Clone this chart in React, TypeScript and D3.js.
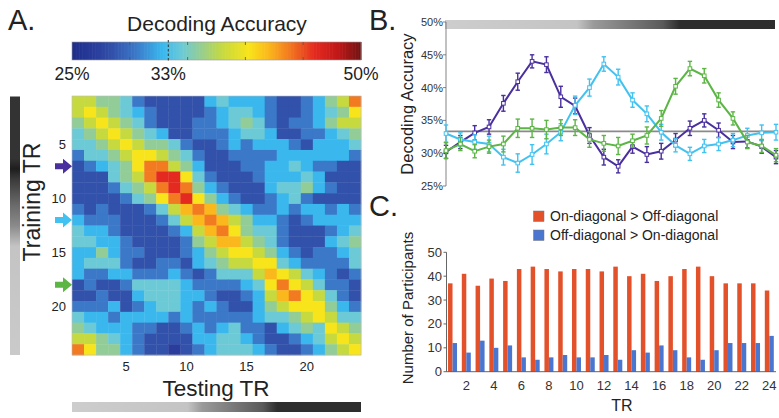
import React from "react";
import * as d3 from "d3";

const FONT = "'Liberation Sans', Arial, Helvetica, sans-serif";

// ---------- Data ----------
const trs = [1, 2, 3, 4, 5, 6, 7, 8, 9, 10, 11, 12, 13, 14, 15, 16, 17, 18, 19, 20, 21, 22, 23, 24];

// Panel A: decoding accuracy (%) matrix, rows = training TR, cols = testing TR
const heatRows: number[][] = [
  [38, 38, 36, 36, 34.5, 30.5, 28.5, 28.5, 28.5, 28.5, 28.5, 32.8, 34.5, 32.8, 32.8, 32.8, 30.5, 28.5, 28.5, 30.5, 32.8, 36, 38, 43.8],
  [38, 40.3, 38, 36, 34.5, 32.8, 30.5, 28.5, 28.5, 28.5, 28.5, 30.5, 32.8, 34.5, 34.5, 32.8, 30.5, 28.5, 28.5, 30.5, 32.8, 34.5, 36, 40.3],
  [36, 38, 40.3, 38, 36, 34.5, 30.5, 28.5, 28.5, 28.5, 30.5, 30.5, 32.8, 34.5, 36, 34.5, 30.5, 28.5, 30.5, 30.5, 32.8, 36, 38, 38],
  [34.5, 36, 38, 40.3, 38, 36, 34.5, 32.8, 28.5, 28.5, 30.5, 30.5, 30.5, 32.8, 34.5, 34.5, 32.8, 28.5, 28.5, 30.5, 30.5, 32.8, 34.5, 36],
  [34.5, 34.5, 36, 38, 40.3, 38, 36, 36, 34.5, 30.5, 28.5, 28.5, 30.5, 32.8, 30.5, 32.8, 32.8, 32.8, 30.5, 28.5, 32.8, 32.8, 32.8, 34.5],
  [30.5, 34.5, 34.5, 36, 38, 40.3, 40.3, 38, 36, 34.5, 30.5, 28.5, 28.5, 30.5, 30.5, 30.5, 30.5, 32.8, 32.8, 32.8, 32.8, 32.8, 32.8, 30.5],
  [28.5, 30.5, 32.8, 34.5, 36, 40.3, 43.8, 43.8, 38, 36, 32.8, 28.5, 28.5, 28.5, 30.5, 30.5, 32.8, 32.8, 34.5, 32.8, 30.5, 30.5, 28.5, 28.5],
  [28.5, 28.5, 28.5, 34.5, 36, 38, 43.8, 46, 46, 40.3, 34.5, 30.5, 28.5, 28.5, 28.5, 30.5, 32.8, 32.8, 32.8, 34.5, 32.8, 28.5, 28.5, 28.5],
  [28.5, 28.5, 28.5, 30.5, 34.5, 36, 38, 43.8, 46, 43.8, 36, 32.8, 30.5, 28.5, 28.5, 28.5, 32.8, 34.5, 34.5, 36, 32.8, 30.5, 28.5, 28.5],
  [28.5, 28.5, 28.5, 28.5, 30.5, 34.5, 36, 40.3, 43.8, 46, 40.3, 36, 32.8, 30.5, 28.5, 28.5, 30.5, 32.8, 34.5, 30.5, 28.5, 28.5, 28.5, 28.5],
  [30.5, 28.5, 30.5, 28.5, 28.5, 28.5, 30.5, 34.5, 38, 42, 43.8, 42, 36, 34.5, 32.8, 30.5, 30.5, 32.8, 30.5, 32.8, 32.8, 30.5, 32.8, 30.5],
  [32.8, 30.5, 30.5, 30.5, 28.5, 28.5, 28.5, 30.5, 34.5, 38, 42, 43.8, 42, 38, 36, 32.8, 32.8, 30.5, 28.5, 30.5, 32.8, 32.8, 32.8, 32.8],
  [34.5, 32.8, 32.8, 30.5, 28.5, 28.5, 28.5, 28.5, 30.5, 32.8, 38, 42, 43.8, 40.3, 36, 34.5, 34.5, 30.5, 28.5, 28.5, 28.5, 30.5, 32.8, 34.5],
  [34.5, 34.5, 32.8, 32.8, 30.5, 28.5, 28.5, 28.5, 28.5, 30.5, 36, 38, 42, 42, 38, 36, 34.5, 30.5, 28.5, 28.5, 28.5, 32.8, 34.5, 36],
  [32.8, 32.8, 36, 32.8, 30.5, 30.5, 28.5, 28.5, 28.5, 30.5, 32.8, 36, 38, 40.3, 40.3, 38, 36, 32.8, 30.5, 28.5, 30.5, 30.5, 32.8, 34.5],
  [32.8, 34.5, 34.5, 34.5, 30.5, 28.5, 28.5, 30.5, 30.5, 28.5, 32.8, 34.5, 36, 38, 38, 40.3, 40.3, 34.5, 32.8, 30.5, 30.5, 30.5, 30.5, 34.5],
  [32.8, 30.5, 30.5, 32.8, 32.8, 30.5, 30.5, 30.5, 32.8, 30.5, 28.5, 30.5, 34.5, 34.5, 34.5, 38, 42, 40.3, 38, 34.5, 32.8, 30.5, 28.5, 30.5],
  [28.5, 30.5, 28.5, 28.5, 30.5, 34.5, 34.5, 34.5, 34.5, 32.8, 30.5, 30.5, 30.5, 30.5, 32.8, 34.5, 40.3, 43.8, 40.3, 38, 34.5, 30.5, 30.5, 28.5],
  [28.5, 28.5, 30.5, 28.5, 28.5, 32.8, 34.5, 34.5, 34.5, 32.8, 32.8, 30.5, 28.5, 28.5, 30.5, 32.8, 38, 42, 43.8, 40.3, 38, 34.5, 30.5, 28.5],
  [30.5, 30.5, 30.5, 32.8, 28.5, 30.5, 32.8, 34.5, 34.5, 32.8, 30.5, 32.8, 30.5, 28.5, 28.5, 32.8, 36, 38, 40.3, 40.3, 40.3, 36, 32.8, 30.5],
  [34.5, 32.8, 32.8, 30.5, 32.8, 32.8, 32.8, 32.8, 30.5, 32.8, 30.5, 30.5, 30.5, 30.5, 30.5, 32.8, 34.5, 34.5, 36, 38, 40.3, 38, 34.5, 34.5],
  [36, 34.5, 32.8, 32.8, 32.8, 30.5, 30.5, 28.5, 28.5, 30.5, 32.8, 30.5, 32.8, 34.5, 30.5, 30.5, 28.5, 32.8, 34.5, 36, 34.5, 40.3, 38, 36],
  [38, 38, 36, 34.5, 32.8, 30.5, 28.5, 28.5, 28.5, 28.5, 32.8, 32.8, 34.5, 34.5, 32.8, 30.5, 28.5, 28.5, 30.5, 32.8, 34.5, 38, 40.3, 38],
  [43.8, 40.3, 36, 36, 32.8, 30.5, 28.5, 28.5, 27, 28.5, 30.5, 32.8, 34.5, 34.5, 34.5, 32.8, 30.5, 28.5, 28.5, 30.5, 32.8, 36, 38, 40.3],
];
const heatTicks = [5, 10, 15, 20];
const arrowRows = [7, 12, 18];
const colorbarLabels = [
  { v: 25, t: "25%" },
  { v: 33.33, t: "33%" },
  { v: 50, t: "50%" },
];
const colorbarMinor = [30, 35, 40, 45];

// Panel B: decoding accuracy time courses
const purpleAcc = [30.2, 31.7, 33.1, 34.0, 37.6, 40.9, 44.0, 43.5, 38.6, 37.2, 32.7, 29.4, 28.0, 31.0, 29.8, 30.3, 32.0, 33.8, 35.0, 33.5, 31.7, 31.8, 31.0, 29.4];
const purpleErr = [1.0, 1.0, 1.1, 1.1, 1.2, 1.3, 1.0, 1.2, 1.6, 1.2, 1.2, 1.2, 1.0, 1.0, 1.2, 1.2, 1.0, 1.1, 1.0, 1.1, 1.0, 1.0, 1.0, 1.0];
const cyanAcc = [33.0, 32.1, 31.7, 31.4, 29.4, 28.5, 29.8, 31.4, 33.2, 37.3, 40.0, 43.6, 41.6, 38.1, 36.0, 33.2, 31.2, 29.9, 31.1, 31.4, 32.0, 32.7, 33.1, 33.2];
const cyanErr = [1.3, 1.0, 1.1, 1.2, 1.2, 1.4, 1.5, 1.5, 1.3, 1.4, 1.3, 1.1, 1.2, 1.1, 1.2, 1.2, 1.0, 1.0, 1.0, 1.0, 1.0, 1.1, 1.2, 1.2];
const greenAcc = [30.4, 31.4, 30.3, 31.0, 31.4, 33.8, 33.8, 33.6, 33.9, 33.9, 32.1, 31.5, 31.1, 31.9, 32.7, 35.3, 40.2, 42.9, 41.8, 38.1, 35.3, 31.7, 31.1, 29.7];
const greenErr = [1.2, 1.0, 1.0, 1.0, 1.2, 1.4, 1.4, 1.4, 1.2, 1.2, 1.2, 1.2, 1.3, 1.0, 1.3, 1.2, 1.2, 1.1, 1.1, 1.1, 1.0, 1.0, 1.0, 1.0];
const chanceLevel = 33.33;
const accTicks = [25, 30, 35, 40, 45, 50];

// Panel C: participant counts
const onDiag = [37, 41, 36, 39, 38, 43, 44, 43, 42, 43, 43, 42, 44, 40, 41, 38, 40, 43, 44, 40, 37, 37, 37, 34];
const offDiag = [12, 8, 13, 10, 11, 6, 5, 6, 7, 6, 6, 7, 5, 9, 8, 11, 9, 6, 5, 9, 12, 12, 12, 15];
const countTicks = [0, 10, 20, 30, 40, 50];
const trTicks = [2, 4, 6, 8, 10, 12, 14, 16, 18, 20, 22, 24];

// ---------- Colours ----------
const jet = d3
  .scaleLinear<string>()
  .domain([25, 27, 28.5, 30.5, 32.8, 34.5, 36, 38, 40.3, 42, 43.8, 46, 48, 50])
  .range(["#1e2d8a", "#2a3d9c", "#3251aa", "#3b78c8", "#3ab8ee", "#6ccad6", "#92cd98", "#c6da40", "#f8e41a", "#fbb81c", "#f27a20", "#e42a20", "#c01818", "#701414"])
  .clamp(true);

const PURPLE = "#4a2f9e";
const CYAN = "#42c2f0";
const GREEN = "#5cb545";
const RED = "#e3512b";
const BLUE = "#4a76cf";

export default function App() {
  // Panel A scales
  const hx = d3.scaleBand<number>().domain(trs).range([72, 361]);
  const hy = d3.scaleBand<number>().domain(trs).range([96, 355]);
  const cb = d3.scaleLinear().domain([25, 50]).range([72, 361]);
  const cbSlices = d3.range(0, 200).map((i) => 25 + (i * 25) / 200);

  // Panel B scales
  const bx = d3.scaleLinear().domain([1, 24]).range([446, 776]);
  const by = d3.scaleLinear().domain([25, 50]).range([186, 22]);
  const line = d3
    .line<number>()
    .x((_, i) => bx(trs[i]))
    .y((d) => by(d));

  // Panel C scales
  const cx = d3.scaleLinear().domain([2, 24]).range([466.3, 769.3]);
  const cy = d3.scaleLinear().domain([0, 50]).range([371.7, 252.3]);
  const bw = 4.5;

  const series = [
    { acc: purpleAcc, err: purpleErr, color: PURPLE },
    { acc: cyanAcc, err: cyanErr, color: CYAN },
    { acc: greenAcc, err: greenErr, color: GREEN },
  ];
  const arrowColors = [PURPLE, CYAN, GREEN];

  const arrow = (yc: number) =>
    `M55,${yc - 3} L63,${yc - 3} L63,${yc - 7.5} L72,${yc} L63,${yc + 7.5} L63,${yc + 3} L55,${yc + 3} Z`;

  return (
    <svg
      width={779}
      height={418}
      style={{ position: "absolute", left: 0, top: 0, background: "#fff" }}
      fontFamily={FONT}
    >
      <defs>
        <linearGradient id="gradV" x1="0" y1="0" x2="0" y2="1">
          <stop offset="0" stopColor="#333" />
          <stop offset="0.24" stopColor="#333" />
          <stop offset="0.28" stopColor="#1e1e1e" />
          <stop offset="0.32" stopColor="#3a3a3a" />
          <stop offset="0.42" stopColor="#6a6a6a" />
          <stop offset="0.5" stopColor="#8a8a8a" />
          <stop offset="0.58" stopColor="#c4c4c4" />
          <stop offset="1" stopColor="#cacaca" />
        </linearGradient>
        <linearGradient id="gradH" x1="0" y1="0" x2="1" y2="0">
          <stop offset="0" stopColor="#cdcdcd" />
          <stop offset="0.4" stopColor="#c4c4c4" />
          <stop offset="0.45" stopColor="#9a9a9a" />
          <stop offset="0.66" stopColor="#5a5a5a" />
          <stop offset="0.71" stopColor="#2e2e2e" />
          <stop offset="1" stopColor="#2e2e2e" />
        </linearGradient>
      </defs>

      {/* Panel letters */}
      <text x={8} y={30} fontSize={29} fill="#222">A.</text>
      <text x={369} y={30} fontSize={29} fill="#222">B.</text>
      <text x={369} y={216} fontSize={29} fill="#222">C.</text>

      {/* ---------- Panel A ---------- */}
      <text x={217} y={31} fontSize={21} textAnchor="middle" fill="#222">
        Decoding Accuracy
      </text>
      {cbSlices.map((v, i) => (
        <rect key={i} x={cb(v)} y={42} width={289 / 200 + 0.6} height={18} fill={jet(v + 0.0625)} />
      ))}
      <rect x={72} y={42} width={289} height={18} fill="none" stroke="#999" strokeWidth={0.6} />
      {colorbarMinor.map((v) => (
        <g key={v}>
          <line x1={cb(v)} x2={cb(v)} y1={42} y2={45} stroke="#555" strokeWidth={0.8} />
          <line x1={cb(v)} x2={cb(v)} y1={57} y2={60} stroke="#555" strokeWidth={0.8} />
        </g>
      ))}
      <line x1={cb(33.33)} x2={cb(33.33)} y1={40} y2={62} stroke="#333" strokeWidth={1} strokeDasharray="2.5,2" />
      {colorbarLabels.map((d) => (
        <text key={d.t} x={cb(d.v)} y={80} fontSize={17.5} textAnchor="middle" fill="#222">
          {d.t}
        </text>
      ))}

      {heatRows.map((row, ri) =>
        row.map((v, ci) => (
          <rect
            key={`${ri}-${ci}`}
            x={hx(trs[ci])!}
            y={hy(trs[ri])!}
            width={hx.bandwidth() + 0.4}
            height={hy.bandwidth() + 0.4}
            fill={jet(v)}
          />
        ))
      )}
      <rect x={72} y={96} width={289} height={259} fill="none" stroke="#bbb" strokeWidth={0.6} />
      {heatTicks.map((t) => (
        <g key={t}>
          <text x={66} y={hy(t)! + hy.bandwidth() / 2 + 4.5} fontSize={13} textAnchor="end" fill="#222">
            {t}
          </text>
          <text x={hx(t)! + hx.bandwidth() / 2} y={371} fontSize={13} textAnchor="middle" fill="#222">
            {t}
          </text>
        </g>
      ))}
      <text x={216} y={396} fontSize={22.5} textAnchor="middle" fill="#222">
        Testing TR
      </text>
      <text transform="translate(40,202) rotate(-90)" fontSize={23} textAnchor="middle" fill="#222">
        Training TR
      </text>
      {arrowRows.map((r, i) => (
        <path key={r} d={arrow(hy(r)! + hy.bandwidth() / 2)} fill={arrowColors[i]} />
      ))}
      <rect x={10} y={96.5} width={10} height={258.5} fill="url(#gradV)" />
      <rect x={72} y={402} width={289} height={10} fill="url(#gradH)" />

      {/* ---------- Panel B ---------- */}
      <rect x={445} y={20} width={330} height={9} fill="url(#gradH)" />
      <line x1={446} x2={446} y1={by(50)} y2={by(25)} stroke="#666" strokeWidth={0.8} />
      {accTicks.map((t) => (
        <g key={t}>
          <line x1={443} x2={446} y1={by(t)} y2={by(t)} stroke="#666" strokeWidth={0.8} />
          <text x={443} y={by(t) + 4} fontSize={11} textAnchor="end" fill="#333">
            {t}%
          </text>
        </g>
      ))}
      <text transform="translate(413,104) rotate(-90)" fontSize={16.5} textAnchor="middle" fill="#222">
        Decoding Accuracy
      </text>
      <line x1={bx(1)} x2={bx(24)} y1={by(chanceLevel)} y2={by(chanceLevel)} stroke="#8a8a8a" strokeWidth={1.6} />
      {series.map((s, si) => (
        <g key={si}>
          <path d={line(s.acc)!} fill="none" stroke={s.color} strokeWidth={2} />
          {s.acc.map((v, i) => {
            const x = bx(trs[i]);
            return (
              <g key={i}>
                <line x1={x} x2={x} y1={by(v + s.err[i])} y2={by(v - s.err[i])} stroke={s.color} strokeWidth={1.4} />
                <line x1={x - 2.2} x2={x + 2.2} y1={by(v + s.err[i])} y2={by(v + s.err[i])} stroke={s.color} strokeWidth={1.4} />
                <line x1={x - 2.2} x2={x + 2.2} y1={by(v - s.err[i])} y2={by(v - s.err[i])} stroke={s.color} strokeWidth={1.4} />
                <rect x={x - 1.8} y={by(v) - 1.8} width={3.6} height={3.6} fill="#fff" stroke={s.color} strokeWidth={1} />
              </g>
            );
          })}
        </g>
      ))}

      {/* ---------- Panel C ---------- */}
      <rect x={533.5} y={211} width={10.5} height={10.5} fill={RED} stroke="#777" strokeWidth={0.5} />
      <text x={550} y={221} fontSize={14} fill="#222">On-diagonal &gt; Off-diagonal</text>
      <rect x={533.5} y={230} width={10.5} height={10.5} fill={BLUE} stroke="#777" strokeWidth={0.5} />
      <text x={550} y={240} fontSize={14} fill="#222">Off-diagonal &gt; On-diagonal</text>

      {onDiag.map((v, i) => (
        <rect key={`r${i}`} x={cx(trs[i]) - bw} y={cy(v)} width={bw} height={cy(0) - cy(v)} fill={RED} />
      ))}
      {offDiag.map((v, i) => (
        <rect key={`b${i}`} x={cx(trs[i])} y={cy(v)} width={bw} height={cy(0) - cy(v)} fill={BLUE} />
      ))}
      <line x1={446.5} x2={446.5} y1={cy(50)} y2={cy(0)} stroke="#555" strokeWidth={0.9} />
      <line x1={446.5} x2={776} y1={cy(0)} y2={cy(0)} stroke="#555" strokeWidth={0.9} />
      {countTicks.map((t) => (
        <g key={t}>
          <line x1={443.5} x2={446.5} y1={cy(t)} y2={cy(t)} stroke="#555" strokeWidth={0.9} />
          <text x={442} y={cy(t) + 4.5} fontSize={13} textAnchor="end" fill="#333">
            {t}
          </text>
        </g>
      ))}
      {trTicks.map((t) => (
        <text key={t} x={cx(t)} y={389.5} fontSize={13} textAnchor="middle" fill="#333">
          {t}
        </text>
      ))}
      <text x={622} y={411} fontSize={16} textAnchor="middle" fill="#222">
        TR
      </text>
      <text transform="translate(413,308) rotate(-90)" fontSize={15} textAnchor="middle" fill="#222">
        Number of Participants
      </text>
    </svg>
  );
}
